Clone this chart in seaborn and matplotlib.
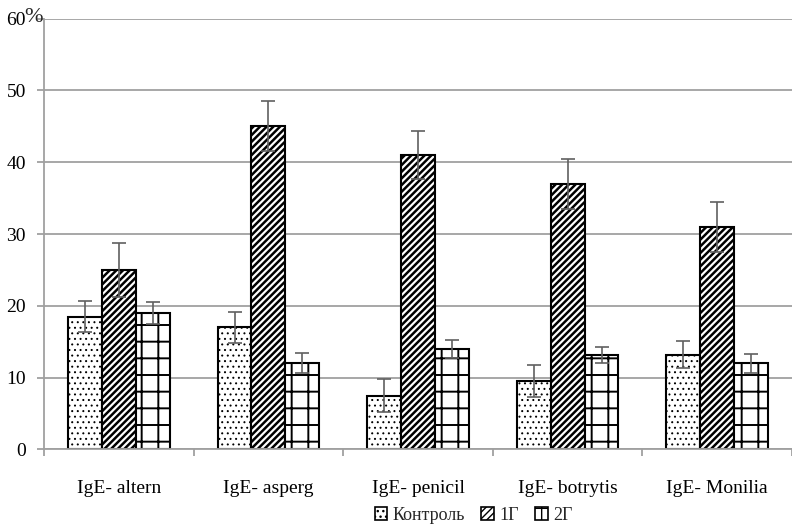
import matplotlib
matplotlib.use("Agg")
import matplotlib.pyplot as plt
import matplotlib.patches as mpatches
import seaborn as sns
import pandas as pd
import numpy as np

categories = ["IgE- altern", "IgE- asperg", "IgE- penicil", "IgE- botrytis", "IgE- Monilia"]
groups = ["Контроль", "1Г", "2Г"]
control = [18.5, 17.0, 7.5, 9.5, 13.2]
g1 = [25.0, 45.0, 41.0, 37.0, 31.0]
g2 = [19.0, 12.0, 14.0, 13.2, 12.0]
control_err = [2.2, 2.2, 2.3, 2.2, 1.9]
g1_err = [3.8, 3.5, 3.4, 3.5, 3.5]
g2_err = [1.5, 1.4, 1.3, 1.1, 1.3]
yticks = [0, 10, 20, 30, 40, 50, 60]

values = [control, g1, g2]
errors = [control_err, g1_err, g2_err]
hatches = ["...", "/////", "+"]
hatch_widths = [0.7, 1.8, 1.4]

df = pd.DataFrame({
    "category": np.repeat([categories], 3, axis=0).ravel(),
    "group": np.repeat(groups, len(categories)),
    "value": np.concatenate(values),
})

sns.set_style("white")
plt.rcParams["font.family"] = ["Liberation Serif", "DejaVu Serif"]
plt.rcParams["hatch.color"] = "black"


def style_hatch(patch, hatch, lw):
    patch.set_hatch(hatch)
    if hasattr(patch, "set_hatch_linewidth"):
        patch.set_hatch_linewidth(lw)


fig = plt.figure(figsize=(7.92, 5.29), dpi=100)
ax = fig.add_axes([0.0556, 0.1503, 0.9444, 0.8147])

sns.barplot(data=df, x="category", y="value", hue="group", order=categories,
            hue_order=groups, palette=["white"] * 3, edgecolor="black",
            linewidth=1.5, width=0.68, errorbar=None, legend=False, ax=ax,
            zorder=2)

for cont, h, hw, vals, errs in zip(ax.containers, hatches, hatch_widths,
                                   values, errors):
    xs = []
    for bar in cont:
        style_hatch(bar, h, hw)
        bar.set_edgecolor("black")
        xs.append(bar.get_x() + bar.get_width() / 2)
    ax.errorbar(xs, vals, yerr=errs, fmt="none", ecolor="#606060",
                elinewidth=1.2, capsize=4.7, capthick=1.2, zorder=5)

ax.set_ylim(0, 60)
ax.set_xlim(-0.5, len(categories) - 0.5)
ax.set_yticks(yticks)
ax.set_yticklabels([str(t) for t in yticks])
ax.yaxis.grid(True, color="#a0a0a0", linewidth=1.3, zorder=0)
ax.set_axisbelow(True)

for s in ["top", "right"]:
    ax.spines[s].set_visible(False)
for s in ["left", "bottom"]:
    ax.spines[s].set_color("#a0a0a0")
    ax.spines[s].set_linewidth(1.3)

ax.tick_params(axis="y", which="major", length=5, width=1.3, color="#a0a0a0",
               left=True, pad=8, labelsize=14, labelcolor="black")
ax.tick_params(axis="x", which="major", length=0, pad=22, labelsize=14,
               labelcolor="black")
ax.set_xticks(np.arange(-0.5, len(categories)), minor=True)
ax.tick_params(axis="x", which="minor", length=5, width=1.3, color="#a0a0a0",
               bottom=True)
ax.set_xlabel("")
ax.set_ylabel("")

ax.annotate("%", xy=(0, 1), xycoords="axes fraction", xytext=(-14, 0.5),
            textcoords="offset points", ha="left", va="center", fontsize=16)

handles = []
for g, h, hw in zip(groups, hatches, hatch_widths):
    p = mpatches.Patch(facecolor="white", edgecolor="black", linewidth=1.2,
                       label=g)
    style_hatch(p, h, hw)
    handles.append(p)
fig.legend(handles=handles, loc="center", bbox_to_anchor=(0.598, 0.026),
           ncol=3, frameon=False, fontsize=13, handlelength=0.7,
           handleheight=0.7, handletextpad=0.3, columnspacing=0.9)

fig.savefig("out.png", dpi=100)
